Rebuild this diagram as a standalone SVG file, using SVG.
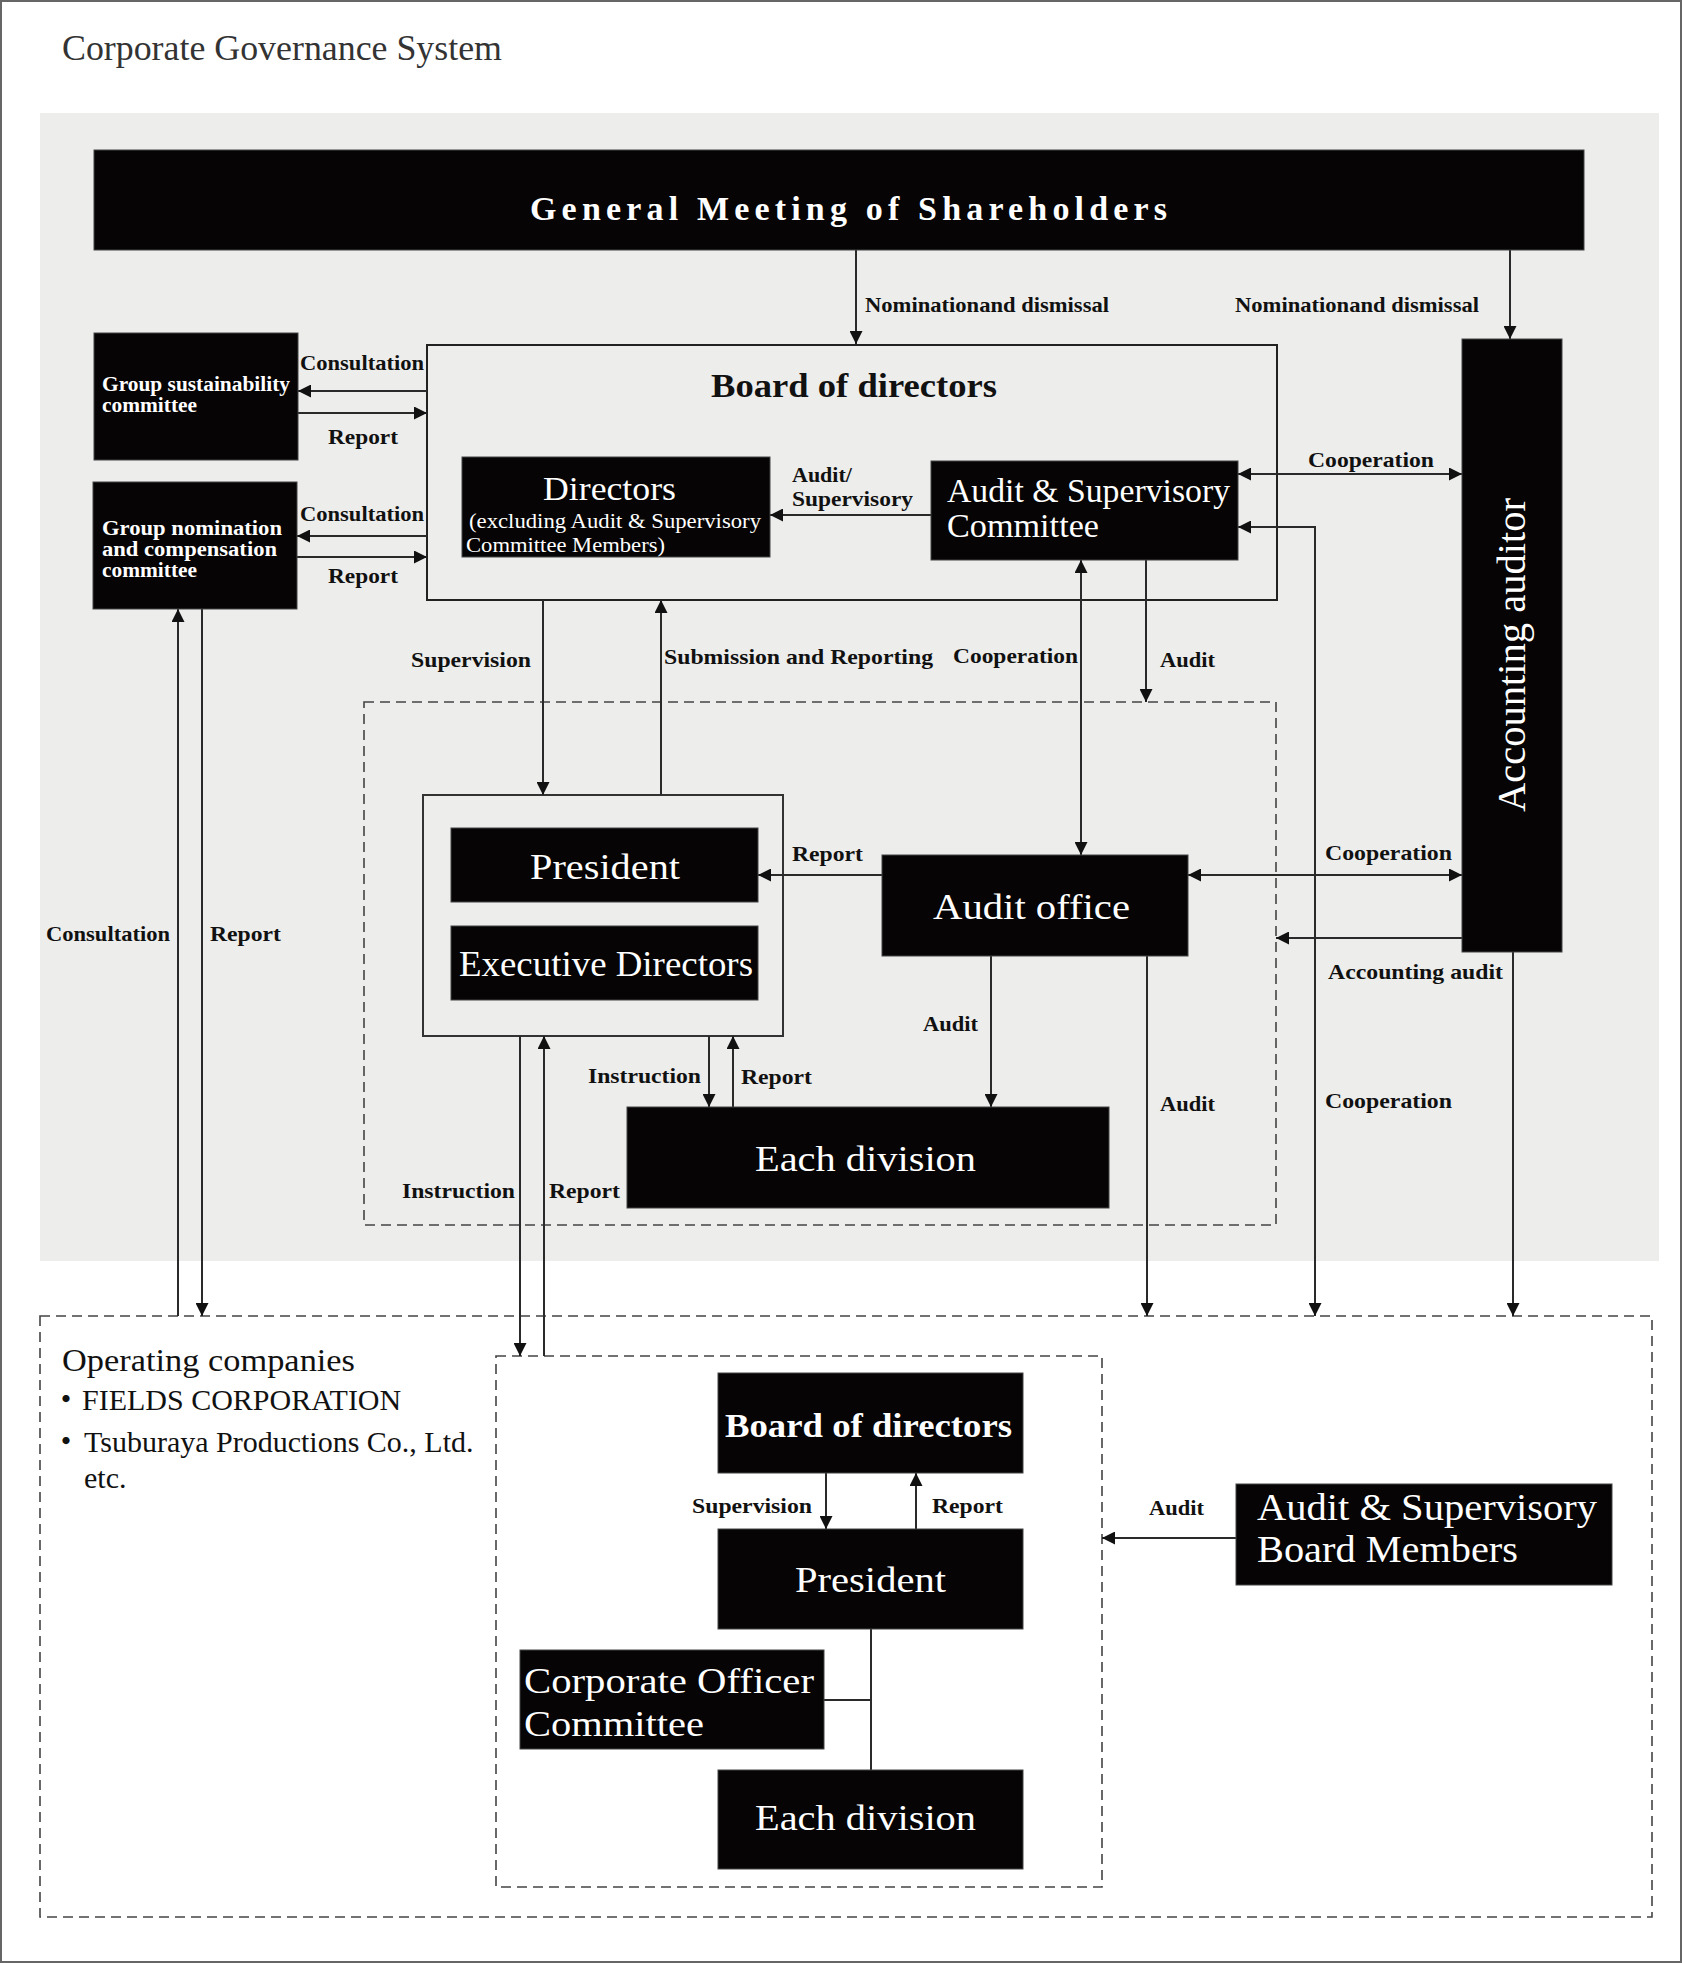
<svg xmlns="http://www.w3.org/2000/svg" width="1682" height="1963" viewBox="0 0 1682 1963">
<style>
.t{font-family:"Liberation Serif","Times New Roman",serif;}
.lbl{font-family:"Liberation Serif","Times New Roman",serif;font-weight:bold;font-size:22px;fill:#111;}
.wb{font-family:"Liberation Serif","Times New Roman",serif;fill:#fff;}
.box{fill:#060404;stroke:#444;stroke-width:1;}
.c{stroke:#2a2a2a;stroke-width:2;fill:none;}
.dash{fill:none;stroke:#444;stroke-width:1.6;stroke-dasharray:10 6;}
</style>
<defs>
<marker id="ah" viewBox="0 0 12 12" refX="12" refY="6" markerWidth="13" markerHeight="13" markerUnits="userSpaceOnUse" orient="auto-start-reverse"><path d="M0,0 L12,6 L0,12 z" fill="#111"/></marker>
</defs>
<rect x="1" y="1" width="1680" height="1961" fill="#fff" stroke="#666" stroke-width="2"/>
<text class="t" x="62" y="60" font-size="36" fill="#333" textLength="440" lengthAdjust="spacingAndGlyphs">Corporate Governance System</text>
<rect x="40" y="113" width="1619" height="1148" fill="#ededec"/>

<g id="frames">
<rect class="dash" x="364" y="702" width="912" height="523"/>
<rect class="dash" x="40" y="1316" width="1612" height="601"/>
<rect class="dash" x="496" y="1356" width="606" height="531"/>
</g>

<g id="board">
<rect x="427" y="345" width="850" height="255" fill="none" stroke="#222" stroke-width="2"/>
<text class="t" x="711" y="397" font-size="34" font-weight="bold" fill="#111" textLength="286" lengthAdjust="spacingAndGlyphs">Board of directors</text>
</g>
<g id="exec-group">
<rect x="423" y="795" width="360" height="241" fill="none" stroke="#333" stroke-width="2"/>
</g>

<g id="connectors">
<path class="c" d="M856,250 V344" marker-end="url(#ah)"/>
<path class="c" d="M1510,250 V339" marker-end="url(#ah)"/>
<path class="c" d="M427,391 H298" marker-end="url(#ah)"/>
<path class="c" d="M298,413 H427" marker-end="url(#ah)"/>
<path class="c" d="M427,536 H297" marker-end="url(#ah)"/>
<path class="c" d="M297,557 H427" marker-end="url(#ah)"/>
<path class="c" d="M931,515 H770" marker-end="url(#ah)"/>
<path class="c" d="M1238,474 H1462" marker-start="url(#ah)" marker-end="url(#ah)"/>
<path class="c" d="M1315,1316 V527 H1238" marker-start="url(#ah)" marker-end="url(#ah)"/>
<path class="c" d="M1081,560 V855" marker-start="url(#ah)" marker-end="url(#ah)"/>
<path class="c" d="M1146,560 V702" marker-end="url(#ah)"/>
<path class="c" d="M543,600 V795" marker-end="url(#ah)"/>
<path class="c" d="M661,795 V600" marker-end="url(#ah)"/>
<path class="c" d="M882,875 H758" marker-end="url(#ah)"/>
<path class="c" d="M1188,875 H1462" marker-start="url(#ah)" marker-end="url(#ah)"/>
<path class="c" d="M1462,938 H1276" marker-end="url(#ah)"/>
<path class="c" d="M991,956 V1107" marker-end="url(#ah)"/>
<path class="c" d="M1147,956 V1316" marker-end="url(#ah)"/>
<path class="c" d="M1513,952 V1316" marker-end="url(#ah)"/>
<path class="c" d="M709,1036 V1107" marker-end="url(#ah)"/>
<path class="c" d="M733,1107 V1036" marker-end="url(#ah)"/>
<path class="c" d="M520,1036 V1356" marker-end="url(#ah)"/>
<path class="c" d="M544,1356 V1036" marker-end="url(#ah)"/>
<path class="c" d="M178,1316 V609" marker-end="url(#ah)"/>
<path class="c" d="M202,609 V1316" marker-end="url(#ah)"/>
<path class="c" d="M826,1473 V1529" marker-end="url(#ah)"/>
<path class="c" d="M916,1529 V1473" marker-end="url(#ah)"/>
<path class="c" d="M1236,1538 H1102" marker-end="url(#ah)"/>
<path class="c" d="M871,1629 V1770 M824,1700 H871"/>

<text class="lbl" x="865" y="312" textLength="244" lengthAdjust="spacingAndGlyphs">Nominationand dismissal</text>
<text class="lbl" x="1235" y="312" textLength="244" lengthAdjust="spacingAndGlyphs">Nominationand dismissal</text>
<text class="lbl" x="300" y="370" textLength="124" lengthAdjust="spacingAndGlyphs">Consultation</text>
<text class="lbl" x="328" y="444" textLength="70" lengthAdjust="spacingAndGlyphs">Report</text>
<text class="lbl" x="300" y="521" textLength="124" lengthAdjust="spacingAndGlyphs">Consultation</text>
<text class="lbl" x="328" y="583" textLength="70" lengthAdjust="spacingAndGlyphs">Report</text>
<text class="lbl" x="792" y="482">Audit/</text>
<text class="lbl" x="792" y="506" textLength="121" lengthAdjust="spacingAndGlyphs">Supervisory</text>
<text class="lbl" x="1308" y="467" textLength="126" lengthAdjust="spacingAndGlyphs">Cooperation</text>
<text class="lbl" x="411" y="667" textLength="120" lengthAdjust="spacingAndGlyphs">Supervision</text>
<text class="lbl" x="664" y="664" textLength="269" lengthAdjust="spacingAndGlyphs">Submission and Reporting</text>
<text class="lbl" x="953" y="663" textLength="125" lengthAdjust="spacingAndGlyphs">Cooperation</text>
<text class="lbl" x="1160" y="667" textLength="55" lengthAdjust="spacingAndGlyphs">Audit</text>
<text class="lbl" x="792" y="861" textLength="71" lengthAdjust="spacingAndGlyphs">Report</text>
<text class="lbl" x="1325" y="860" textLength="127" lengthAdjust="spacingAndGlyphs">Cooperation</text>
<text class="lbl" x="1328" y="979" textLength="175" lengthAdjust="spacingAndGlyphs">Accounting audit</text>
<text class="lbl" x="923" y="1031" textLength="55" lengthAdjust="spacingAndGlyphs">Audit</text>
<text class="lbl" x="588" y="1083" textLength="113" lengthAdjust="spacingAndGlyphs">Instruction</text>
<text class="lbl" x="741" y="1084" textLength="71" lengthAdjust="spacingAndGlyphs">Report</text>
<text class="lbl" x="1160" y="1111" textLength="55" lengthAdjust="spacingAndGlyphs">Audit</text>
<text class="lbl" x="1325" y="1108" textLength="127" lengthAdjust="spacingAndGlyphs">Cooperation</text>
<text class="lbl" x="46" y="941" textLength="124" lengthAdjust="spacingAndGlyphs">Consultation</text>
<text class="lbl" x="210" y="941" textLength="71" lengthAdjust="spacingAndGlyphs">Report</text>
<text class="lbl" x="402" y="1198" textLength="113" lengthAdjust="spacingAndGlyphs">Instruction</text>
<text class="lbl" x="549" y="1198" textLength="71" lengthAdjust="spacingAndGlyphs">Report</text>
<text class="lbl" x="692" y="1513" font-size="20" textLength="120" lengthAdjust="spacingAndGlyphs">Supervision</text>
<text class="lbl" x="932" y="1513" font-size="20" textLength="71" lengthAdjust="spacingAndGlyphs">Report</text>
<text class="lbl" x="1149" y="1515" font-size="20" textLength="55" lengthAdjust="spacingAndGlyphs">Audit</text>
</g>

<g id="gm">
<rect class="box" x="94" y="150" width="1490" height="100"/>
<text class="wb" x="530" y="220" font-size="34" font-weight="bold" textLength="637" lengthAdjust="spacing">General Meeting of Shareholders</text>
</g>
<g id="sustainability">
<rect class="box" x="94" y="333" width="204" height="127"/>
<text class="wb" x="102" y="391" font-size="20" font-weight="bold" textLength="188" lengthAdjust="spacingAndGlyphs">Group sustainability</text>
<text class="wb" x="102" y="412" font-size="20" font-weight="bold" textLength="95" lengthAdjust="spacingAndGlyphs">committee</text>
</g>
<g id="nomination">
<rect class="box" x="93" y="482" width="204" height="127"/>
<text class="wb" x="102" y="535" font-size="20" font-weight="bold" textLength="180" lengthAdjust="spacingAndGlyphs">Group nomination</text>
<text class="wb" x="102" y="556" font-size="20" font-weight="bold" textLength="175" lengthAdjust="spacingAndGlyphs">and compensation</text>
<text class="wb" x="102" y="577" font-size="20" font-weight="bold" textLength="95" lengthAdjust="spacingAndGlyphs">committee</text>
</g>
<g id="directors">
<rect class="box" x="462" y="457" width="308" height="100"/>
<text class="wb" x="543" y="500" font-size="34" textLength="133" lengthAdjust="spacingAndGlyphs">Directors</text>
<text class="wb" x="469" y="528" font-size="22" textLength="292" lengthAdjust="spacingAndGlyphs">(excluding Audit &amp; Supervisory</text>
<text class="wb" x="466" y="552" font-size="22" textLength="199" lengthAdjust="spacingAndGlyphs">Committee Members)</text>
</g>
<g id="as-committee">
<rect class="box" x="931" y="461" width="307" height="99"/>
<text class="wb" x="947" y="502" font-size="33" textLength="283" lengthAdjust="spacingAndGlyphs">Audit &amp; Supervisory</text>
<text class="wb" x="947" y="537" font-size="33" textLength="152" lengthAdjust="spacingAndGlyphs">Committee</text>
</g>
<g id="accounting-auditor">
<rect class="box" x="1462" y="339" width="100" height="613"/>
<text class="wb" transform="translate(1525,655) rotate(-90)" x="0" y="0" font-size="40" text-anchor="middle" textLength="314" lengthAdjust="spacingAndGlyphs">Accounting auditor</text>
</g>
<g id="president">
<rect class="box" x="451" y="828" width="307" height="74"/>
<text class="wb" x="530" y="879" font-size="36" textLength="150" lengthAdjust="spacingAndGlyphs">President</text>
</g>
<g id="executive-directors">
<rect class="box" x="451" y="926" width="307" height="74"/>
<text class="wb" x="459" y="976" font-size="36" textLength="294" lengthAdjust="spacingAndGlyphs">Executive Directors</text>
</g>
<g id="audit-office">
<rect class="box" x="882" y="855" width="306" height="101"/>
<text class="wb" x="933" y="919" font-size="36" textLength="197" lengthAdjust="spacingAndGlyphs">Audit office</text>
</g>
<g id="each-division">
<rect class="box" x="627" y="1107" width="482" height="101"/>
<text class="wb" x="755" y="1171" font-size="36" textLength="221" lengthAdjust="spacingAndGlyphs">Each division</text>
</g>

<g id="operating-companies">
<text class="t" x="62" y="1371" font-size="31" fill="#111" textLength="293" lengthAdjust="spacingAndGlyphs">Operating companies</text>
<text class="t" y="1410" font-size="30" fill="#111"><tspan x="52" font-family="'Noto Sans CJK JP',sans-serif" font-size="28" font-weight="bold">・</tspan><tspan x="82">FIELDS CORPORATION</tspan></text>
<text class="t" y="1452" font-size="30" fill="#111"><tspan x="52" font-family="'Noto Sans CJK JP',sans-serif" font-size="28" font-weight="bold">・</tspan><tspan x="84">Tsuburaya Productions Co., Ltd.</tspan></text>
<text class="t" x="84" y="1488" font-size="30" fill="#111">etc.</text>
</g>
<g id="op-board">
<rect class="box" x="718" y="1373" width="305" height="100"/>
<text class="wb" x="725" y="1437" font-size="33" font-weight="bold" textLength="287" lengthAdjust="spacingAndGlyphs">Board of directors</text>
</g>
<g id="op-president">
<rect class="box" x="718" y="1529" width="305" height="100"/>
<text class="wb" x="795" y="1592" font-size="36" textLength="151" lengthAdjust="spacingAndGlyphs">President</text>
</g>
<g id="op-corporate-officer">
<rect class="box" x="520" y="1650" width="304" height="99"/>
<text class="wb" x="524" y="1693" font-size="36" textLength="290" lengthAdjust="spacingAndGlyphs">Corporate Officer</text>
<text class="wb" x="524" y="1736" font-size="36" textLength="180" lengthAdjust="spacingAndGlyphs">Committee</text>
</g>
<g id="op-each-division">
<rect class="box" x="718" y="1770" width="305" height="99"/>
<text class="wb" x="755" y="1830" font-size="36" textLength="221" lengthAdjust="spacingAndGlyphs">Each division</text>
</g>
<g id="op-as-board">
<rect class="box" x="1236" y="1484" width="376" height="101"/>
<text class="wb" x="1257" y="1520" font-size="38" textLength="340" lengthAdjust="spacingAndGlyphs">Audit &amp; Supervisory</text>
<text class="wb" x="1257" y="1562" font-size="38" textLength="261" lengthAdjust="spacingAndGlyphs">Board Members</text>
</g>
</svg>
